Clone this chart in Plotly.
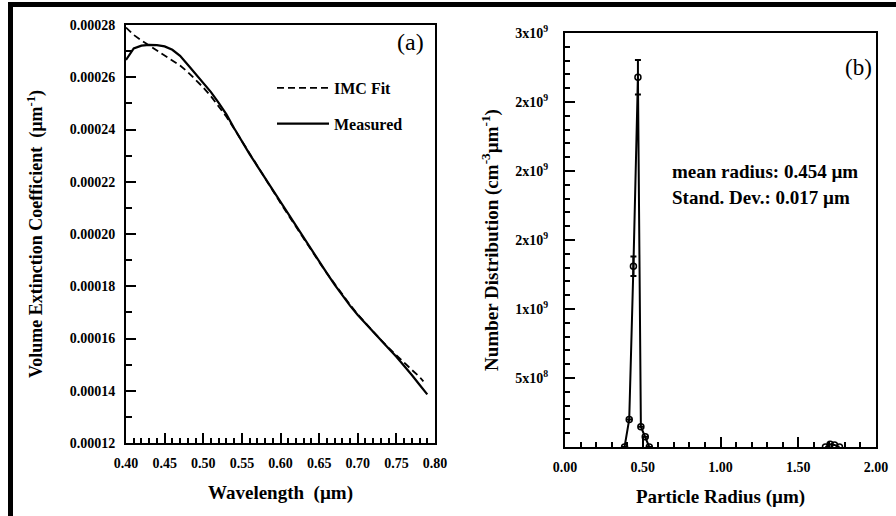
import plotly.graph_objects as go

# ---------------- Data ----------------
# Panel (a): volume extinction coefficient vs wavelength
wavelength_measured = [0.40, 0.41, 0.42, 0.43, 0.44, 0.45, 0.46, 0.47, 0.48, 0.49,
                       0.50, 0.51, 0.52, 0.53, 0.54, 0.55, 0.56, 0.57, 0.58, 0.59,
                       0.60, 0.61, 0.62, 0.63, 0.64, 0.65, 0.66, 0.67, 0.68, 0.69,
                       0.70, 0.71, 0.72, 0.73, 0.74, 0.75, 0.76, 0.77, 0.78, 0.79]
extinction_measured = [0.0002666, 0.0002710, 0.0002721, 0.0002724, 0.0002723, 0.0002718,
                       0.0002705, 0.0002682, 0.0002648, 0.0002613, 0.0002581, 0.0002543,
                       0.0002502, 0.0002458, 0.0002405, 0.0002353, 0.0002306, 0.0002260,
                       0.0002214, 0.0002168, 0.0002121, 0.0002076, 0.0002030, 0.0001985,
                       0.0001940, 0.0001894, 0.0001850, 0.0001806, 0.0001765, 0.0001726,
                       0.0001690, 0.0001657, 0.0001625, 0.0001594, 0.0001562, 0.0001530,
                       0.0001496, 0.0001460, 0.0001423, 0.0001386]

wavelength_fit = [0.40, 0.41, 0.42, 0.43, 0.44, 0.45, 0.46, 0.47, 0.48, 0.49,
                  0.50, 0.51, 0.52, 0.53, 0.54, 0.55, 0.56, 0.57, 0.58, 0.59,
                  0.60, 0.61, 0.62, 0.63, 0.64, 0.65, 0.66, 0.67, 0.68, 0.69,
                  0.70, 0.71, 0.72, 0.73, 0.74, 0.75, 0.76, 0.77, 0.78, 0.785]
extinction_fit = [0.0002790, 0.0002762, 0.0002741, 0.0002722, 0.0002704, 0.0002686,
                  0.0002667, 0.0002645, 0.0002620, 0.0002591, 0.0002561, 0.0002527,
                  0.0002490, 0.0002449, 0.0002403, 0.0002355, 0.0002307, 0.0002260,
                  0.0002213, 0.0002166, 0.0002119, 0.0002073, 0.0002027, 0.0001982,
                  0.0001938, 0.0001893, 0.0001850, 0.0001808, 0.0001768, 0.0001729,
                  0.0001692, 0.0001658, 0.0001625, 0.0001594, 0.0001564, 0.0001535,
                  0.0001507, 0.0001480, 0.0001453, 0.0001436]

# Panel (b): number distribution vs particle radius
radius_main = [0.383, 0.413, 0.440, 0.469, 0.488, 0.516, 0.542]
number_main = [0.0, 2.0e8, 1.31e9, 2.68e9, 1.47e8, 7.5e7, 0.0]
number_main_err = [0.0, 0.0, 7.0e7, 1.25e8, 0.0, 0.0, 0.0]
radius_tail = [1.675, 1.705, 1.733, 1.765]
number_tail = [0.0, 2.0e7, 1.5e7, 0.0]

b_yticks = [5e8, 1e9, 1.5e9, 2e9, 2.5e9, 3e9]
b_yticklabels = ["5x10<sup>8</sup>", "1x10<sup>9</sup>", "2x10<sup>9</sup>",
                 "2x10<sup>9</sup>", "2x10<sup>9</sup>", "3x10<sup>9</sup>"]

# ---------------- Figure ----------------
W, H = 896, 516
FONT = "Liberation Serif"
BLACK = "#000000"

def px(x):
    return x / W

def py(y):
    return 1 - y / H

fig = go.Figure()

fig.add_trace(go.Scatter(
    x=wavelength_fit, y=extinction_fit, mode="lines", name="IMC Fit",
    line=dict(color=BLACK, width=1.8, dash="7px,4px"),
    xaxis="x", yaxis="y", legendgroup="fit",
))
fig.add_trace(go.Scatter(
    x=wavelength_measured, y=extinction_measured, mode="lines", name="Measured",
    line=dict(color=BLACK, width=2.2),
    xaxis="x", yaxis="y", legendgroup="meas",
))

fig.add_trace(go.Scatter(
    x=radius_main, y=number_main, mode="lines+markers", showlegend=False,
    line=dict(color=BLACK, width=2),
    marker=dict(symbol="circle-open", size=6, color=BLACK, line=dict(width=1.5, color=BLACK)),
    error_y=dict(type="data", array=number_main_err, visible=True,
                 color=BLACK, thickness=2, width=3),
    xaxis="x2", yaxis="y2",
))
fig.add_trace(go.Scatter(
    x=radius_tail, y=number_tail, mode="lines+markers", showlegend=False,
    line=dict(color=BLACK, width=2),
    marker=dict(symbol="circle-open", size=6, color=BLACK, line=dict(width=1.5, color=BLACK)),
    xaxis="x2", yaxis="y2",
))

tick_font = dict(family=FONT, size=14, color=BLACK, weight="bold")
title_font = dict(family=FONT, size=19, color=BLACK, weight="bold")

common = dict(showgrid=False, zeroline=False, showline=True, linecolor=BLACK,
              linewidth=2, mirror=True, ticks="inside", tickcolor=BLACK,
              tickfont=tick_font, automargin=False)

fig.update_layout(
    width=W, height=H,
    margin=dict(l=0, r=0, t=0, b=0, autoexpand=False),
    paper_bgcolor="white", plot_bgcolor="white",
    font=dict(family=FONT, color=BLACK),
    showlegend=True,
    legend=dict(x=px(272), y=py(71), xanchor="left", yanchor="top",
                bgcolor="rgba(0,0,0,0)", itemwidth=52, tracegroupgap=12,
                traceorder="grouped",
                font=dict(family=FONT, size=16, color=BLACK, weight="bold")),
    xaxis=dict(domain=[px(126), px(435)], range=[0.40, 0.80], anchor="y",
               tickmode="linear", tick0=0.40, dtick=0.05, tickformat=".2f",
               ticklen=10, tickwidth=2,
               minor=dict(tickmode="linear", dtick=0.01, tick0=0.40, ticks="inside",
                          ticklen=5, tickwidth=1.5, tickcolor=BLACK),
               ticklabelstandoff=6,
               title=dict(text="Wavelength  (µm)", font=title_font, standoff=16),
               **common),
    yaxis=dict(domain=[py(443), py(25)], range=[0.00012, 0.00028], anchor="x",
               tickmode="linear", tick0=0.00012, dtick=0.00002, tickformat=".5f",
               ticklen=10, tickwidth=2,
               minor=dict(tickmode="linear", dtick=0.00001, tick0=0.00012, ticks="inside",
                          ticklen=6, tickwidth=1.5, tickcolor=BLACK),
               ticklabelstandoff=6,
               title=dict(text="Volume Extinction Coefficient  (µm<sup>-1</sup>)",
                          font=dict(family=FONT, size=18, color=BLACK, weight="bold"),
                          standoff=22),
               **common),
    xaxis2=dict(domain=[px(565), px(876)], range=[0, 2], anchor="y2",
                tickmode="linear", tick0=0, dtick=0.5, tickformat=".2f",
                ticklen=10, tickwidth=2,
                minor=dict(tickmode="linear", dtick=0.1, tick0=0, ticks="inside",
                           ticklen=5, tickwidth=1.5, tickcolor=BLACK),
                ticklabelstandoff=6,
                title=dict(text="Particle Radius (µm)", font=title_font, standoff=16),
                **common),
    yaxis2=dict(domain=[py(447), py(33)], range=[0, 3e9], anchor="x2",
                tickmode="array", tickvals=b_yticks, ticktext=b_yticklabels,
                ticklen=10, tickwidth=2,
                minor=dict(tickmode="linear", dtick=1e8, tick0=0, ticks="inside",
                           ticklen=5, tickwidth=1.5, tickcolor=BLACK),
                ticklabelstandoff=12,
                title=dict(text="Number Distribution (cm<sup>-3</sup>µm<sup>-1</sup>)",
                           font=title_font, standoff=12),
                **common),
    annotations=[
        dict(text="(a)", x=px(410), y=py(42), xref="paper", yref="paper",
             showarrow=False, xanchor="center", yanchor="middle",
             font=dict(family=FONT, size=24, color=BLACK)),
        dict(text="(b)", x=px(858), y=py(67), xref="paper", yref="paper",
             showarrow=False, xanchor="center", yanchor="middle",
             font=dict(family=FONT, size=23, color=BLACK)),
        dict(text="mean radius: 0.454 µm", x=px(670), y=py(172), xref="paper", yref="paper",
             showarrow=False, xanchor="left", yanchor="middle",
             font=dict(family=FONT, size=19, color=BLACK, weight="bold")),
        dict(text="Stand. Dev.: 0.017 µm", x=px(670), y=py(197), xref="paper", yref="paper",
             showarrow=False, xanchor="left", yanchor="middle",
             font=dict(family=FONT, size=19, color=BLACK, weight="bold")),
    ],
    shapes=[
        dict(type="rect", xref="paper", yref="paper", x0=px(8), x1=px(13), y0=0, y1=py(2),
             fillcolor=BLACK, line=dict(width=0)),
        dict(type="rect", xref="paper", yref="paper", x0=px(8), x1=1, y0=py(7), y1=py(2),
             fillcolor=BLACK, line=dict(width=0)),
    ],
)

fig.write_html("out.html")
